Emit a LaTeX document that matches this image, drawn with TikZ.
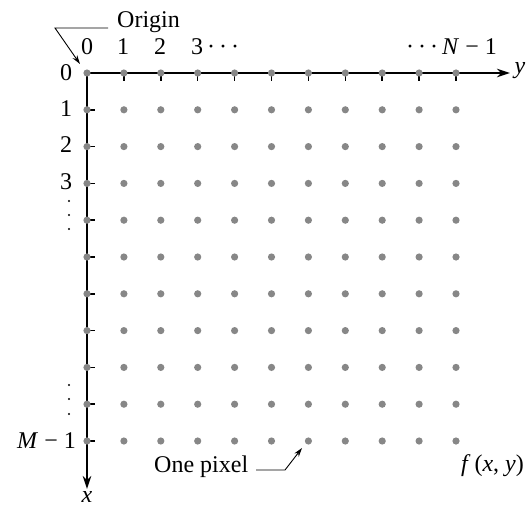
\documentclass[tikz,border=0pt]{standalone}
\usepackage{fontspec}
\setmainfont{Liberation Serif}
\usetikzlibrary{arrows.meta}
\begin{document}
\begin{tikzpicture}[x=1pt,y=-1pt,
  pix/.style={circle,fill=black!47,inner sep=0pt,minimum size=7.2pt},
  axis/.style={line width=1.9pt,-{Stealth[length=13pt,width=8.5pt]}},
  tick/.style={line width=1.5pt},
  lbl/.style={font=\fontsize{24}{24}\selectfont,inner sep=0pt},
  lead/.style={line width=0.9pt},
  vd/.style={circle,fill=black,inner sep=0pt,minimum size=2.4pt}]
\useasboundingbox (0,0) rectangle (526,508);
% axes (drawn first, dots over them)
\coordinate (o) at (87,73);
\coordinate (yend) at (510,73);
\coordinate (xend) at (87,489);
\draw[axis] (o) -- (yend);
\draw[axis] (o) -- (xend);
% ticks
\foreach \j in {1,...,10} {
  \coordinate (tt\j) at ({87+36.9*\j},73);
  \coordinate (tb\j) at ({87+36.9*\j},81);
  \draw[tick] (tt\j) -- (tb\j);
  \coordinate (tl\j) at (87,{73+36.8*\j});
  \coordinate (tr\j) at (95,{73+36.8*\j});
  \draw[tick] (tl\j) -- (tr\j);
}
% pixel dots
\foreach \i in {0,...,10} {
  \foreach \j in {0,...,10} {
    \node[pix] (d-\i-\j) at ({87+36.9*\j},{73+36.8*\i}) {};
  }
}
% axis labels
\node[lbl,font=\fontsize{24}{24}\selectfont\itshape] (ylab) at (520,71) {y};
\node[lbl,font=\fontsize{24}{24}\selectfont\itshape] (xlab) at (87,497) {x};
% column labels
\node[lbl] (c0) at (87,47) {0};
\node[lbl] (c1) at (123,47) {1};
\node[lbl] (c2) at (160,47) {2};
\node[lbl,anchor=west] (c3) at (191,47) {3\,·\,·\,·};
\node[lbl,anchor=east] (cN) at (497,47) {·\,·\,·\,\textit{N} − 1};
% row labels
\node[lbl] (r0) at (66,73) {0};
\node[lbl] (r1) at (66,109) {1};
\node[lbl] (r2) at (66,145) {2};
\node[lbl] (r3) at (66,182) {3};
\node[vd] (v1) at (69,201) {};
\node[vd] (v2) at (69,215) {};
\node[vd] (v3) at (69,229) {};
\node[vd] (v4) at (69,385) {};
\node[vd] (v5) at (69,399) {};
\node[vd] (v6) at (69,414) {};
\node[lbl,anchor=east] (rM) at (76,441) {\textit{M} − 1};
% Origin annotation
\node[lbl,anchor=west] (orig) at (117,22) {Origin};
\coordinate (oa) at (108,28);
\coordinate (ob) at (55,28);
\draw[lead,-{Stealth[length=9pt,width=5.5pt]}] (oa) -- (ob) -- (80,64);
% One pixel annotation
\node[lbl,anchor=west] (onepix) at (154,467) {One pixel};
\coordinate (pa) at (256,470);
\coordinate (pb) at (285,470);
\draw[lead,-{Stealth[length=9pt,width=5.5pt]}] (pa) -- (pb) -- (302,448);
% f(x,y)
\node[lbl,anchor=east] (fxy) at (524,466) {\textit{f}\,(\textit{x}, \textit{y})};
\end{tikzpicture}
\end{document}
